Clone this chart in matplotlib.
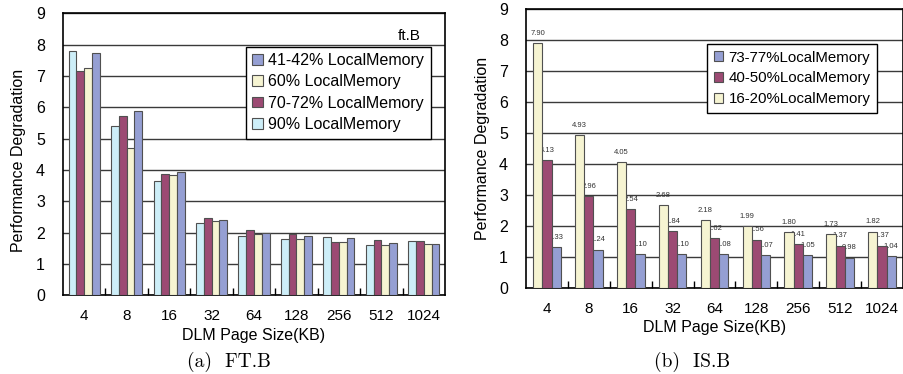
import numpy as np
import matplotlib
matplotlib.use('Agg')
import matplotlib.pyplot as plt

plt.rcParams['font.family'] = ['Liberation Sans', 'DejaVu Sans']

page_sizes = ['4', '8', '16', '32', '64', '128', '256', '512', '1024']

# FT.B, drawn left to right inside each group
ft_labels = ['90% LocalMemory', '70-72% LocalMemory', '60% LocalMemory', '41-42% LocalMemory']
ft_90 = [7.79, 5.42, 3.65, 2.32, 1.91, 1.81, 1.86, 1.62, 1.73]
ft_70 = [7.15, 5.72, 3.87, 2.48, 2.10, 1.95, 1.70, 1.78, 1.73]
ft_60 = [7.24, 4.69, 3.84, 2.38, 1.95, 1.81, 1.70, 1.62, 1.65]
ft_41 = [7.73, 5.87, 3.93, 2.41, 1.99, 1.91, 1.83, 1.68, 1.65]

# IS.B
is_labels = ['16-20%LocalMemory', '40-50%LocalMemory', '73-77%LocalMemory']
is_16 = [7.90, 4.93, 4.05, 2.68, 2.18, 1.99, 1.80, 1.73, 1.82]
is_40 = [4.13, 2.96, 2.54, 1.84, 1.62, 1.56, 1.41, 1.37, 1.37]
is_73 = [1.33, 1.24, 1.10, 1.10, 1.08, 1.07, 1.05, 0.98, 1.04]

c_lblue = '#cdeef8'
c_maroon = '#9c4a73'
c_yellow = '#f6f4d2'
c_blue = '#959fd3'
edge = '#505050'


def style_axes(ax):
    n = len(page_sizes)
    x = np.arange(n)
    ax.set_xlim(-0.5, n - 0.5)
    ax.set_ylim(0, 9)
    ax.set_yticks(range(10))
    ax.set_xticks(x)
    ax.set_xticklabels(page_sizes)
    ax.set_xticks(np.arange(n - 1) + 0.5, minor=True)
    ax.tick_params(axis='x', which='major', length=0, pad=10, labelsize=11)
    ax.tick_params(axis='x', which='minor', direction='in', length=5, width=1, color='black')
    ax.tick_params(axis='y', length=0, pad=13, labelsize=11.5)
    ax.yaxis.grid(True, color='#3a3a3a', lw=1, zorder=0)
    ax.set_axisbelow(True)
    for s in ax.spines.values():
        s.set_color('black')
        s.set_linewidth(1.2)
    ax.set_xlabel('DLM Page Size(KB)', fontsize=11.5, labelpad=3)
    ax.set_ylabel('Performance Degradation', fontsize=11.5)


fig = plt.figure(figsize=(9.04, 3.74), dpi=100)

# (a) FT.B
ax1 = fig.add_axes([0.0697, 0.21, 0.4226, 0.7545])
x = np.arange(len(page_sizes))
w = 0.183
ft_series = [ft_90, ft_70, ft_60, ft_41]
ft_colors = [c_lblue, c_maroon, c_yellow, c_blue]
handles = []
for i, (vals, col, lab) in enumerate(zip(ft_series, ft_colors, ft_labels)):
    b = ax1.bar(x + (i - 1.5) * w, vals, w, color=col, edgecolor=edge, lw=0.8,
                label=lab, zorder=3)
    handles.append(b)
style_axes(ax1)
ax1.yaxis.set_label_coords(-0.097, 0.48)
ax1.text(0.905, 0.92, 'ft.B', transform=ax1.transAxes, ha='center', va='center',
         fontsize=11)
leg1 = ax1.legend(handles[::-1], ft_labels[::-1], loc='upper left',
                  bbox_to_anchor=(0.479, 0.882), borderaxespad=0, fontsize=11.5,
                  frameon=True, fancybox=False, edgecolor='black', framealpha=1,
                  handlelength=0.65, handleheight=0.65, handletextpad=0.35,
                  labelspacing=0.4, borderpad=0.4)
leg1.get_frame().set_linewidth(1)

# (b) IS.B
ax2 = fig.add_axes([0.5819, 0.23, 0.417, 0.746])
w2 = 0.22
is_series = [is_16, is_40, is_73]
is_colors = [c_yellow, c_maroon, c_blue]
handles = []
for i, (vals, col, lab) in enumerate(zip(is_series, is_colors, is_labels)):
    pos = x + (i - 1) * w2
    b = ax2.bar(pos, vals, w2, color=col, edgecolor=edge, lw=0.8, label=lab, zorder=3)
    handles.append(b)
    for px, v in zip(pos, vals):
        ax2.annotate('%.2f' % v, (px, v), xytext=(0, 7), textcoords='offset points',
                     ha='center', va='center', fontsize=5.5, color='#333333', zorder=2)
style_axes(ax2)
ax2.yaxis.set_label_coords(-0.095, 0.5)
leg2 = ax2.legend(handles[::-1], is_labels[::-1], loc='upper left',
                  bbox_to_anchor=(0.48, 0.875), borderaxespad=0, fontsize=10.8,
                  frameon=True, fancybox=False, edgecolor='black', framealpha=1,
                  handlelength=0.65, handleheight=0.65, handletextpad=0.35,
                  labelspacing=0.45, borderpad=0.45)
leg2.get_frame().set_linewidth(1)

fig.text(229 / 904, 1 - 362 / 374, '(a)  FT.B', ha='center', va='center',
         fontsize=14, family=['cmr10', 'DejaVu Serif'])
fig.text(692 / 904, 1 - 362 / 374, '(b)  IS.B', ha='center', va='center',
         fontsize=14, family=['cmr10', 'DejaVu Serif'])

fig.savefig('out.png', dpi=100)
